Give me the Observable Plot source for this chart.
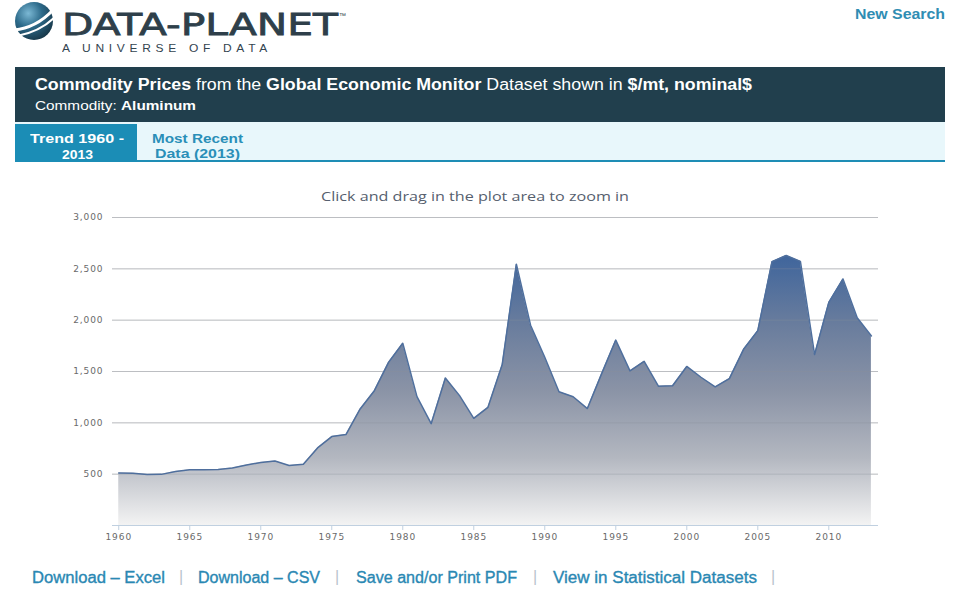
<!DOCTYPE html>
<html><head><meta charset="utf-8">
<script src="https://cdn.jsdelivr.net/npm/d3@7"></script>
<script src="https://cdn.jsdelivr.net/npm/@observablehq/plot@0.6"></script>
<style>
html,body{margin:0;padding:0}
body{width:957px;height:592px;overflow:hidden;background:#fff;position:relative;font-family:"Liberation Sans",Arial,sans-serif}
.a{position:absolute;white-space:nowrap;transform-origin:0 50%;line-height:1}
#chart{position:absolute;left:0;top:170px}
#chart svg text{letter-spacing:0.9px}
.lnk{color:#2a88b3;font-size:16px;-webkit-text-stroke:0.35px #2a88b3}
.sep{color:#b8c4cc;font-size:16px}
</style></head><body>

<svg class="a" style="left:12px;top:1px" width="46" height="42" viewBox="0 0 46 42">
 <defs><radialGradient id="gl" cx="0.35" cy="0.3" r="0.8"><stop offset="0" stop-color="#7bb8d4"/><stop offset="0.45" stop-color="#2c6a8a"/><stop offset="1" stop-color="#15303f"/></radialGradient></defs>
 <circle cx="22" cy="20" r="19" fill="url(#gl)"/>
 <path d="M2 29 Q24 27 41 9" stroke="#fff" stroke-width="3" fill="none"/>
 <path d="M5 35 Q27 31 42 17" stroke="#fff" stroke-width="2.2" fill="none"/>
</svg>
<div class="a" data-w="276" style="left:62px;top:9px;font-size:31px;color:#2e3f4a;font-family:'DejaVu Sans';-webkit-text-stroke:0.8px #2e3f4a">DATA-PLANET</div>
<div class="a" style="left:339px;top:12px;font-size:7px;color:#2e3f4a">™</div>
<div class="a" data-w="210" style="left:62px;top:43px;font-size:11.5px;color:#33444f;letter-spacing:4.5px">A UNIVERSE OF DATA</div>
<div class="a" data-w="90" style="left:855px;top:7px;font-size:14px;font-weight:bold;color:#2f8db3">New Search</div>

<div class="a" style="left:15px;top:67px;width:930px;height:55px;background:#213f4d"></div>
<div class="a" data-w="717" style="left:35px;top:77px;font-size:16px;color:#fff"><b>Commodity Prices</b> from the <b>Global Economic Monitor</b> Dataset shown in <b>$/mt, nominal$</b></div>
<div class="a" data-w="161" style="left:35px;top:99px;font-size:13px;color:#fff">Commodity: <b>Aluminum</b></div>

<div class="a" style="left:15px;top:122px;width:930px;height:38px;background:#e8f7fb;border-bottom:2px solid #1e8db5"></div>
<div class="a" style="left:15px;top:124px;width:122px;height:38px;background:#1b8db6"></div>
<div class="a" data-w="94" style="left:30px;top:132px;font-size:13px;font-weight:bold;color:#fff">Trend 1960 -</div>
<div class="a" data-w="31" style="left:62px;top:148px;font-size:13px;font-weight:bold;color:#fff">2013</div>
<div class="a" data-w="91" style="left:152px;top:132px;font-size:13px;font-weight:bold;color:#2a8fb8">Most Recent</div>
<div class="a" data-w="85" style="left:155px;top:147px;font-size:13px;font-weight:bold;color:#2a8fb8">Data (2013)</div>

<div class="a" data-w="308" style="left:321px;top:190px;font-size:13.5px;color:#56606e;font-family:'Open Sans'">Click and drag in the plot area to zoom in</div>

<div id="chart"></div>

<div class="a lnk" data-w="133" style="left:32px;top:570px">Download – Excel</div>
<div class="a sep" style="left:179px;top:569px">|</div>
<div class="a lnk" data-w="122" style="left:198px;top:570px">Download – CSV</div>
<div class="a sep" style="left:335px;top:569px">|</div>
<div class="a lnk" data-w="161" style="left:356px;top:570px">Save and/or Print PDF</div>
<div class="a sep" style="left:533px;top:569px">|</div>
<div class="a lnk" data-w="204" style="left:553px;top:570px">View in Statistical Datasets</div>
<div class="a sep" style="left:771px;top:569px">|</div>

<script>
const years = [1960,1961,1962,1963,1964,1965,1966,1967,1968,1969,1970,1971,1972,1973,1974,1975,1976,1977,1978,1979,1980,1981,1982,1983,1984,1985,1986,1987,1988,1989,1990,1991,1992,1993,1994,1995,1996,1997,1998,1999,2000,2001,2002,2003,2004,2005,2006,2007,2008,2009,2010,2011,2012,2013];
const prices = [511,510,497,498,525,543,542,545,560,590,613,628,584,597,756,866,886,1135,1313,1589,1775,1255,992,1437,1265,1044,1151,1565,2545,1951,1639,1302,1254,1139,1477,1806,1506,1599,1357,1361,1549,1444,1350,1431,1716,1898,2570,2630,2573,1665,2173,2401,2023,1847];
const yTicks = [500,1000,1500,2000,2500,3000];
const xTicks = [1960,1965,1970,1975,1980,1985,1990,1995,2000,2005,2010];

const data = years.map((year, i) => ({year, price: prices[i]}));

const gradientDefs = () => {
  const defs = d3.create("svg:defs");
  const g = defs.append("linearGradient").attr("id", "areaGrad")
    .attr("x1", 0).attr("y1", 0).attr("x2", 0).attr("y2", 1);
  [[0, "#3f659c"], [0.25, "#687c9d"], [0.5, "#8a93a6"], [0.75, "#b3b7c0"], [1, "#f3f3f3"]]
    .forEach(([o, c]) => g.append("stop").attr("offset", o).attr("stop-color", c));
  return defs.node();
};

const chart = Plot.plot({
  width: 957, height: 370,
  marginLeft: 112, marginRight: 79, marginTop: 47, marginBottom: 15,
  x: {domain: [1959.56, 2013.5]},
  y: {domain: [0, 3000]},
  style: {fontFamily: "DejaVu Sans", fontSize: "9px", background: "transparent", overflow: "visible"},
  marks: [
    gradientDefs,
    Plot.ruleY(yTicks, {stroke: "#d8d8d8", strokeWidth: 1}),
    Plot.areaY(data, {x: "year", y: "price", fill: "url(#areaGrad)"}),
    Plot.ruleY(yTicks, {stroke: "#8a909c", strokeOpacity: 0.35, strokeWidth: 1}),
    Plot.lineY(data, {x: "year", y: "price", stroke: "#4f6f9d", strokeWidth: 1.5}),
    Plot.ruleY([0], {stroke: "#c0d0e0", strokeWidth: 1}),
    Plot.axisY(yTicks, {tickSize: 0, tickPadding: 9, tickFormat: d3.format(","), fill: "#6a6a6a", fontSize: 9, label: null}),
    Plot.axisX(xTicks, {tickSize: 5, tickPadding: 3, tickFormat: d => String(d), stroke: "#c0d0e0", fill: "#6a6a6a", fontSize: 9, label: null})
  ]
});
document.getElementById("chart").appendChild(chart);

document.querySelectorAll("[data-w]").forEach(el => {
  el.style.display = "inline-block";
  const w = el.getBoundingClientRect().width;
  const t = +el.dataset.w;
  if (w > 0) el.style.transform = `scaleX(${t / w})`;
});
</script>
</body></html>
